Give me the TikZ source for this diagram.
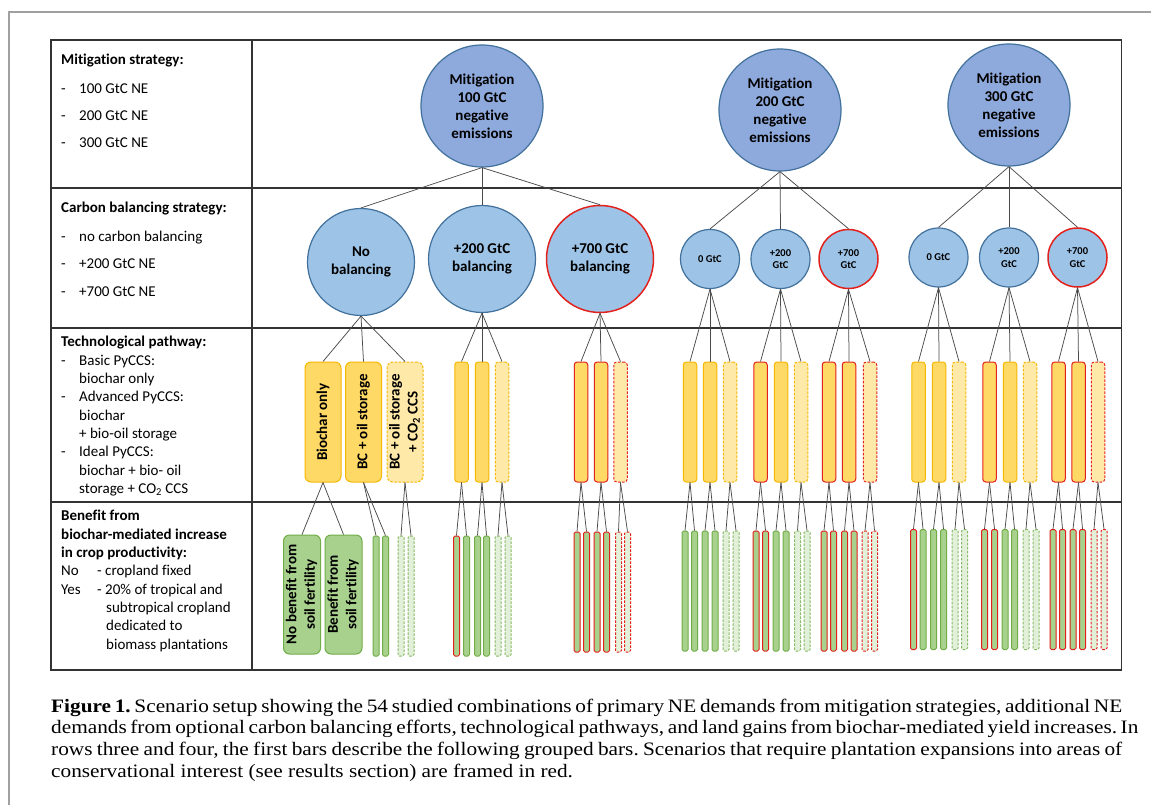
\documentclass[tikz,border=0pt]{standalone}
\usepackage{fontspec}
\setmainfont{Carlito}[Ligatures=NoCommon]
\newfontfamily\capfont{Liberation Serif}[FakeStretch=1.12]
\definecolor{topblue}{HTML}{8EA9DB}
\definecolor{midblue}{HTML}{9DC3E6}
\definecolor{edgeblue}{HTML}{41719C}
\definecolor{rededge}{HTML}{E3211C}
\definecolor{yelfill}{HTML}{FFD966}
\definecolor{yeledge}{HTML}{F5B800}
\definecolor{yellight}{HTML}{FFE9A8}
\definecolor{grfill}{HTML}{A9D18E}
\definecolor{gredge}{HTML}{70AD47}
\definecolor{grlight}{HTML}{E2F0D9}
\definecolor{linkgray}{HTML}{4A4A4A}
\definecolor{tablegray}{HTML}{333333}
\definecolor{framegray}{HTML}{A0A0A0}
\tikzset{
  tbl/.style={draw=tablegray, line width=1.6pt},
  link/.style={draw=linkgray, line width=0.75pt},
  lefttxt/.style={anchor=base west, inner sep=0pt, font=\fontsize{15}{18.33}\selectfont},
  lefthead/.style={anchor=base west, inner sep=0pt, font=\fontsize{15}{18.33}\selectfont\bfseries},
  captxt/.style={anchor=base west, inner sep=0pt, font=\capfont\fontsize{19}{21.7}\selectfont\frenchspacing},
  circ/.style={circle, draw=edgeblue, line width=1.2pt, fill=midblue, inner sep=0pt, align=center, text=black},
  topcirc/.style={circ, fill=topblue, minimum size=122pt, font=\fontsize{15}{18}\selectfont\bfseries},
  bigcirc/.style={circ, minimum size=107pt, font=\fontsize{15}{17.5}\selectfont\bfseries},
  smallcirc/.style={circ, minimum size=59pt, font=\fontsize{10.5}{12.5}\selectfont\bfseries},
  redring/.style={draw=rededge, line width=1.5pt},
  barbase/.style={rectangle, inner sep=0pt, line width=1pt},
  dashbar/.style={dash pattern=on 2.5pt off 1.5pt},
  yelbar/.style={barbase, fill=yelfill, draw=yeledge},
  yelbarD/.style={barbase, fill=yellight, draw=yeledge, dashbar},
  yelbarR/.style={barbase, fill=yelfill, draw=rededge},
  yelbarRD/.style={barbase, fill=yellight, draw=rededge, dashbar},
  grnbar/.style={barbase, fill=grfill, draw=gredge},
  grnbarD/.style={barbase, fill=grlight, draw=gredge!85, dashbar},
  grnbarR/.style={barbase, fill=grfill, draw=rededge},
  grnbarRD/.style={barbase, fill=grlight, draw=rededge, dashbar},
  ysmall/.style={minimum width=13.5pt, minimum height=120pt, rounded corners=3pt},
  ybig/.style={minimum width=36pt, minimum height=120pt, rounded corners=6pt, font=\fontsize{15}{18}\selectfont\bfseries},
  gthin/.style={minimum width=6pt, minimum height=120pt, rounded corners=1.5pt},
  gbig/.style={minimum width=36pt, minimum height=119pt, rounded corners=6pt, font=\fontsize{15}{18.5}\selectfont\bfseries},
}
\begin{document}
\begin{tikzpicture}[x=1pt,y=-1pt]
\useasboundingbox (0,0) rectangle (1151,805);
\fill[white] (0,0) rectangle (1151,805);
% outer frame
\draw[framegray, line width=2.4pt] (8.7,805) -- (8.7,12.2) -- (1151,12.2);
% table
\draw[tbl] (51,40) rectangle (1121.5,670);
\draw[tbl] (252,40) -- (252,670);
\draw[tbl] (51,188) -- (1121.5,188);
\draw[tbl] (51,328) -- (1121.5,328);
\draw[tbl] (51,502) -- (1121.5,502);

% left column
\node[lefthead] (L1) at (61,65) {Mitigation strategy:};
\node[lefttxt] (L2) at (61,94) {\makebox[18pt][l]{-}100 GtC NE};
\node[lefttxt] (L3) at (61,121) {\makebox[18pt][l]{-}200 GtC NE};
\node[lefttxt] (L4) at (61,148) {\makebox[18pt][l]{-}300 GtC NE};
\node[lefthead] (L5) at (61,213) {Carbon balancing strategy:};
\node[lefttxt] (L6) at (61,241.5) {\makebox[18pt][l]{-}no carbon balancing};
\node[lefttxt] (L7) at (61,269) {\makebox[18pt][l]{-}+200 GtC NE};
\node[lefttxt] (L8) at (61,296.5) {\makebox[18pt][l]{-}+700 GtC NE};
\node[lefthead] (L9) at (61,346.7) {Technological pathway:};
\node[lefttxt] (L10) at (61,365) {\makebox[18pt][l]{-}Basic PyCCS:};
\node[lefttxt] (L11) at (79,383.3) {biochar only};
\node[lefttxt] (L12) at (61,401.7) {\makebox[18pt][l]{-}Advanced PyCCS:};
\node[lefttxt] (L13) at (79,420) {biochar};
\node[lefttxt] (L14) at (79,438.3) {+ bio-oil storage};
\node[lefttxt] (L15) at (61,456.7) {\makebox[18pt][l]{-}Ideal PyCCS:};
\node[lefttxt] (L16) at (79,475) {biochar + bio- oil};
\node[lefttxt] (L17) at (79,493.3) {storage + CO\textsubscript{2} CCS};
\node[lefthead] (L18) at (61,520.7) {Benefit from};
\node[lefthead] (L19) at (61,539) {biochar-mediated increase};
\node[lefthead] (L20) at (61,557.3) {in crop productivity:};
\node[lefttxt] (L21) at (61,575.7) {\makebox[36pt][l]{No}- cropland fixed};
\node[lefttxt] (L22) at (61,594) {\makebox[36pt][l]{Yes}- 20\% of tropical and};
\node[lefttxt] (L23) at (106,612.3) {subtropical cropland};
\node[lefttxt] (L24) at (106,630.7) {dedicated to};
\node[lefttxt] (L25) at (106,649) {biomass plantations};

% top circles
\node[topcirc] (m1) at (482,106) {Mitigation\\100 GtC\\negative\\emissions};
\node[topcirc] (m2) at (780,110) {Mitigation\\200 GtC\\negative\\emissions};
\node[topcirc] (m3) at (1009,105) {Mitigation\\300 GtC\\negative\\emissions};

% second row circles
\node[bigcirc] (nb) at (361,262) {No\\balancing};
\node[bigcirc] (p200) at (482,259) {+200 GtC\\balancing};
\node[bigcirc, redring] (p700) at (600,259) {+700 GtC\\balancing};
\node[smallcirc] (s20) at (710,259) {0 GtC};
\node[smallcirc] (s22) at (780.5,259) {+200\\GtC};
\node[smallcirc, redring] (s27) at (848.5,259) {+700\\GtC};
\node[smallcirc] (s30) at (938.5,257.5) {0 GtC};
\node[smallcirc] (s32) at (1009,257.5) {+200\\GtC};
\node[smallcirc, redring] (s37) at (1077.5,257.5) {+700\\GtC};

\foreach \a/\b in {m1/nb, m1/p200, m1/p700, m2/s20, m2/s22, m2/s27, m3/s30, m3/s32, m3/s37}
  \draw[link] (\a.south) -- (\b.north);

% technological pathway bars (big, first group)
\node[yelbar, ybig] (a1) at (323,422) {\rotatebox{90}{Biochar only}};
\node[yelbar, ybig] (a2) at (363.5,422) {\rotatebox{90}{BC + oil storage}};
\node[yelbarD, ybig] (a3) at (405,422) {\rotatebox{90}{\begin{tabular}{@{}c@{}}BC + oil storage\\+ CO\textsubscript{2} CCS\end{tabular}}};
\foreach \b in {a1,a2,a3} \draw[link] (nb.south) -- (\b.north);

% small yellow bars
\foreach \nm/\xx/\st/\pa in {
  b1/461.5/yelbar/p200, b2/482/yelbar/p200, b3/502/yelbarD/p200,
  c1/581/yelbarR/p700, c2/601/yelbarR/p700, c3/620.5/yelbarRD/p700,
  d1/690/yelbar/s20, d2/710/yelbar/s20, d3/730/yelbarD/s20,
  e1/760.5/yelbarR/s22, e2/781/yelbar/s22, e3/801/yelbarD/s22,
  f1/829/yelbarR/s27, f2/849/yelbarR/s27, f3/870/yelbarRD/s27,
  g1/918.5/yelbar/s30, g2/939/yelbar/s30, g3/959/yelbarD/s30,
  h1/989.5/yelbarR/s32, h2/1010/yelbar/s32, h3/1030/yelbarD/s32,
  i1/1058.5/yelbarR/s37, i2/1078.5/yelbarR/s37, i3/1098/yelbarRD/s37}
{
  \node[\st, ysmall] (\nm) at (\xx,422) {};
  \draw[link] (\pa.south) -- (\nm.north);
}

% big green bars
\node[grnbar, gbig] (a1n) at (302,594.5) {\rotatebox{90}{\begin{tabular}{@{}c@{}}No benefit from\\soil fertility\end{tabular}}};
\node[grnbar, gbig] (a1y) at (343.5,594.5) {\rotatebox{90}{\begin{tabular}{@{}c@{}}Benefit from\\soil fertility\end{tabular}}};
\draw[link] (a1.south) -- (a1n.north);
\draw[link] (a1.south) -- (a1y.north);

% thin green bars
\foreach \nm/\xx/\yy/\st/\pa in {
  a2n/376/596/grnbar/a2, a2y/385.5/596/grnbar/a2, a3n/401/596/grnbarD/a3, a3y/411/596/grnbarD/a3,
  b1n/456.5/596/grnbarR/b1, b1y/466.5/596/grnbar/b1, b2n/477.5/596/grnbar/b2, b2y/486.5/596/grnbar/b2, b3n/498/596/grnbarD/b3, b3y/508/596/grnbarD/b3,
  c1n/577/592/grnbarR/c1, c1y/586.5/592/grnbarR/c1, c2n/597/592/grnbarR/c2, c2y/606.5/592/grnbarR/c2, c3n/618.5/592/grnbarRD/c3, c3y/627.5/592/grnbarRD/c3,
  d1n/685/591/grnbar/d1, d1y/694.5/591/grnbar/d1, d2n/705/591/grnbar/d2, d2y/715/591/grnbar/d2, d3n/726/591/grnbarD/d3, d3y/736/591/grnbarD/d3,
  e1n/756/591/grnbarR/e1, e1y/765.5/591/grnbarR/e1, e2n/776/591/grnbar/e2, e2y/786/591/grnbar/e2, e3n/797.5/591/grnbarD/e3, e3y/807/591/grnbarD/e3,
  f1n/824/591/grnbarR/f1, f1y/833.5/591/grnbarR/f1, f2n/844.5/591/grnbarR/f2, f2y/854/591/grnbarR/f2, f3n/865/591/grnbarRD/f3, f3y/874.5/591/grnbarRD/f3,
  g1n/913.5/589.5/grnbarR/g1, g1y/923/589.5/grnbar/g1, g2n/933.5/589.5/grnbar/g2, g2y/943.5/589.5/grnbar/g2, g3n/955/589.5/grnbarD/g3, g3y/964.5/589.5/grnbarD/g3,
  h1n/984.5/589.5/grnbarR/h1, h1y/994.5/589.5/grnbarR/h1, h2n/1005/589.5/grnbar/h2, h2y/1014.5/589.5/grnbar/h2, h3n/1026/589.5/grnbarD/h3, h3y/1036/589.5/grnbarD/h3,
  i1n/1053/589.5/grnbarR/i1, i1y/1062.5/589.5/grnbarR/i1, i2n/1073/589.5/grnbarR/i2, i2y/1082.5/589.5/grnbarR/i2, i3n/1094/589.5/grnbarRD/i3, i3y/1104/589.5/grnbarRD/i3}
{
  \node[\st, gthin] (\nm) at (\xx,\yy) {};
  \draw[link] (\pa.south) -- (\nm.north);
}

% caption
\node[captxt] (cap1) at (51,712) {\makebox[1071pt][s]{\textbf{Figure 1.} Scenario setup showing the 54 studied combinations of primary NE demands from mitigation strategies, additional NE}};
\node[captxt] (cap2) at (51,733.7) {\makebox[1071pt][s]{demands from optional carbon balancing efforts, technological pathways, and land gains from biochar-mediated yield increases. In}};
\node[captxt] (cap3) at (51,755.4) {\makebox[1071pt][s]{rows three and four, the first bars describe the following grouped bars. Scenarios that require plantation expansions into areas of}};
\node[captxt] (cap4) at (51,777.1) {conservational interest (see results section) are framed in red.};
\end{tikzpicture}
\end{document}
